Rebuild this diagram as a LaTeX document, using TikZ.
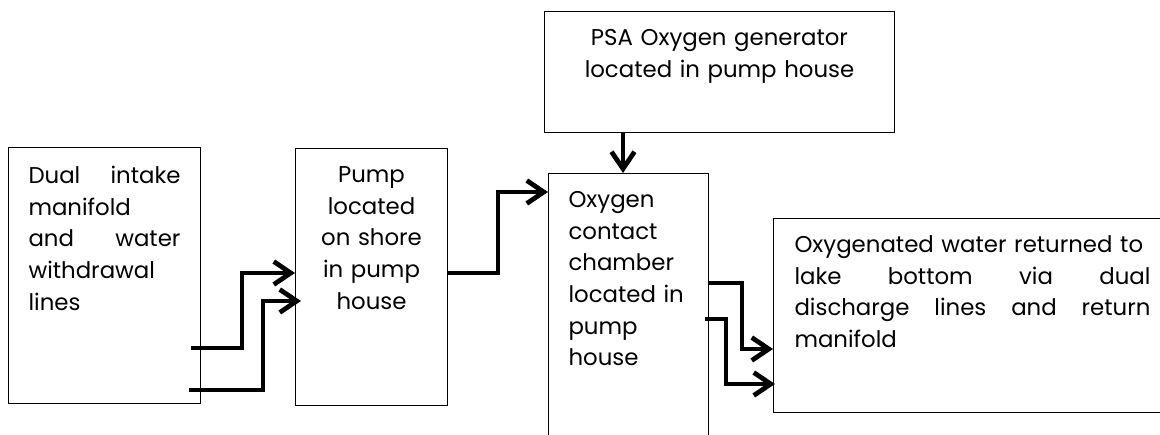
\documentclass[tikz,border=0pt]{standalone}
\usepackage{fontspec}
\setmainfont{Poppins}
\usetikzlibrary{positioning,arrows.meta}

\begin{document}
\begin{tikzpicture}[x=0.02cm, y=-0.02cm,
    box/.style={rectangle, draw=black, line width=0.6pt, anchor=north west, inner ysep=0pt, font=\fontsize{13}{18}\selectfont},
    leftbox/.style={box, inner xsep=4mm, align=left},
    midbox/.style={box, inner xsep=2mm, align=center},
    pipe/.style={line width=2.7pt, -{Straight Barb[length=3.4mm, width=4.6mm]}}
]

% Page frame
\clip (0,0) rectangle (1160,435);

% Intake - left
\node[leftbox, text width=30.4mm, text height=7.2mm, text depth=44mm] (intake) at (8,147)
  {Dual\hfill intake\\ manifold\\ and\hfill water\\ withdrawal\\ lines};

% Pump
\node[midbox, text width=26.4mm, text height=6.8mm, text depth=44.6mm] (pump) at (295,148)
  {Pump\\ located\\ on shore\\ in pump\\ house};

% PSA generator - top
\node[midbox, text width=66mm, text height=6.8mm, text depth=17.4mm] (psa) at (544,11)
  {PSA Oxygen generator\\ located in pump house};

% Contact chamber - runs past the bottom edge
\node[leftbox, text width=24mm, text height=6.8mm, text depth=60mm] (chamber) at (548,173)
  {Oxygen\\ contact\\ chamber\\ located~in\\ pump\\ house};

% Return to lake - runs past the right edge
\node[leftbox, inner xsep=4.2mm, text width=71.2mm, text height=6.8mm, text depth=32mm] (lake) at (773,218)
  {Oxygenated water returned to\\ lake\hfill bottom\hfill via\hfill dual\\ discharge\hfill lines\hfill and\hfill return\\ manifold};

% Intake lines to pump
\coordinate (in1) at (191,348);
\coordinate (in2) at (189,390);
\draw[pipe] (in1) -| (242,273) -- (pump.west |- 0,273);
\draw[pipe] (in2) -| (263,301) -- ([xshift=1.2mm]pump.west |- 0,301);

% Pump to chamber
\draw[pipe] (pump.east |- 0,273) -| (498,192) -- (chamber.west |- 0,192);

% Generator to chamber
\draw[pipe] (psa.south -| 623,0) -- (chamber.north -| 623,0);

% Chamber to lake
\draw[pipe] (chamber.east |- 0,283) -| (742,349) -- (lake.west |- 0,349);
\coordinate (out2) at (705,319);
\draw[pipe] (out2) -| (726,384) -- ([xshift=0.4mm]lake.west |- 0,384);

\end{tikzpicture}
\end{document}
